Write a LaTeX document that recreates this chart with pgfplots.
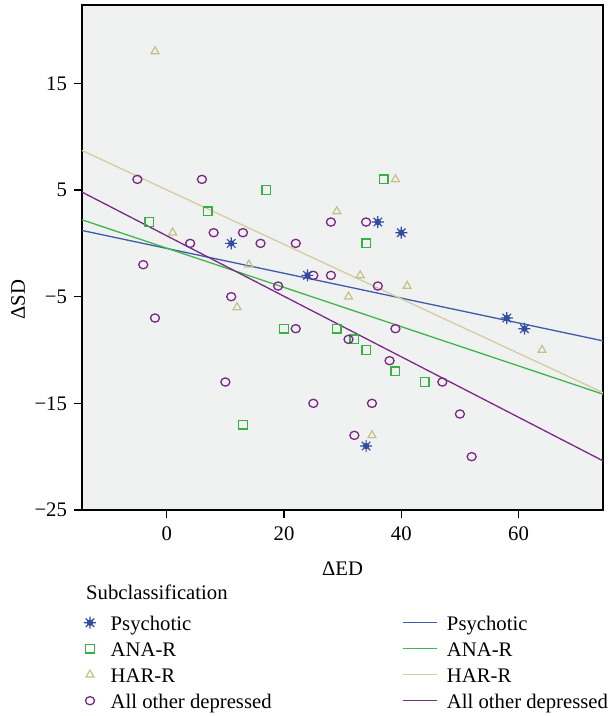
\documentclass[border=0pt]{standalone}
\usepackage{pgfplots}
\pgfplotsset{compat=1.18}
\usepackage{fontspec}
\setmainfont{Liberation Serif}
\definecolor{bgc}{RGB}{240,242,242}
\definecolor{pblue}{RGB}{52,76,160}
\definecolor{pgreen}{RGB}{55,178,66}
\definecolor{pkhaki}{RGB}{198,192,136}
\definecolor{ppurple}{RGB}{122,38,132}
\definecolor{lblue}{RGB}{62,90,168}
\definecolor{lgreen}{RGB}{62,182,74}
\definecolor{lkhaki}{RGB}{212,204,158}
\definecolor{lpurple}{RGB}{124,40,134}
\pgfdeclareplotmark{sunstar}{%
  \pgfpathmoveto{\pgfqpoint{-\pgfplotmarksize}{0pt}}\pgfpathlineto{\pgfqpoint{\pgfplotmarksize}{0pt}}%
  \pgfpathmoveto{\pgfqpoint{0pt}{-\pgfplotmarksize}}\pgfpathlineto{\pgfqpoint{0pt}{\pgfplotmarksize}}%
  \pgfpathmoveto{\pgfqpoint{-0.707\pgfplotmarksize}{-0.707\pgfplotmarksize}}\pgfpathlineto{\pgfqpoint{0.707\pgfplotmarksize}{0.707\pgfplotmarksize}}%
  \pgfpathmoveto{\pgfqpoint{-0.707\pgfplotmarksize}{0.707\pgfplotmarksize}}\pgfpathlineto{\pgfqpoint{0.707\pgfplotmarksize}{-0.707\pgfplotmarksize}}%
  \pgfusepathqstroke
  \pgfpathcircle{\pgfpointorigin}{0.42\pgfplotmarksize}\pgfusepathqfillstroke
}
\pgfplotsset{
  mleg/.style={legend image code/.code={\path (0bp,8bp) (14bp,8bp); \draw[##1] plot coordinates {(7bp,8bp)};}},
  lleg/.style={legend image code/.code={\draw[##1] (0bp,8bp) -- (34bp,8bp);}},
  starm/.style={only marks, mark=sunstar, mark size=6bp, pblue, line width=1.2bp},
  sqm/.style={only marks, mark=square, mark size=4.3bp, pgreen, line width=1.4bp},
  trim/.style={only marks, mark=triangle, mark size=4.6bp, pkhaki, line width=1.2bp},
  cirm/.style={only marks, mark=o, mark size=4.1bp, mark options={xscale=1.1}, ppurple, line width=1.3bp},
}
\begin{document}
\fontsize{20.7bp}{25bp}\selectfont
\begin{tikzpicture}
\begin{axis}[
  at={(0,0)}, anchor=south west,
  scale only axis, width=521bp, height=505bp,
  xmin=-14.45, xmax=74.4, ymin=-25, ymax=22.35,
  axis background/.style={fill=bgc},
  axis line style={line width=1.2bp, black},
  xtick={0,20,40,60},
  ytick={-25,-15,-5,5,15},
  yticklabels={−25,−15,−5,5,15},
  xticklabels={0,20,40,60},
  tick align=outside, xtick pos=bottom, ytick pos=left,
  major tick length=8bp,
  tick style={line width=1.2bp, black},
  every tick label/.append style={font=\fontsize{20.7bp}{25bp}\selectfont},
  xticklabel style={yshift=-2bp},
  xlabel={ΔED}, ylabel={ΔSD},
  every axis x label/.style={at={(rel axis cs:0.5,0)}, anchor=base, yshift=-65bp, font=\fontsize{20.7bp}{25bp}\selectfont},
  every axis y label/.style={at={(rel axis cs:0,0.4168)}, anchor=base, xshift=-57bp, rotate=90, font=\fontsize{20.7bp}{25bp}\selectfont},
  legend columns=2,
  legend style={draw=none, fill=none, inner sep=0pt, outer sep=0pt,
    at={(rel axis cs:0,0)}, anchor=north west, xshift=0.3bp, yshift=-105.7bp,
    row sep=6bp, column sep=0pt,
    font=\fontsize{20.7bp}{25bp}\selectfont,
    nodes={inner sep=0pt, anchor=base west, text height=15bp, text depth=5bp},
    /tikz/column 1/.style={column sep=13bp},
    /tikz/column 2/.style={column sep=122bp},
    /tikz/column 3/.style={column sep=9bp}},
]
% fit lines
\addplot[forget plot, lblue, line width=1.3bp] coordinates {(-14.45,1.21) (74.4,-9.14)};
\addplot[forget plot, lgreen, line width=1.3bp] coordinates {(-14.45,2.21) (74.4,-14.14)};
\addplot[forget plot, lkhaki, line width=1.3bp] coordinates {(-14.45,8.71) (74.4,-13.99)};
\addplot[forget plot, lpurple, line width=1.3bp] coordinates {(-14.45,4.81) (74.4,-20.39)};
% HAR-R
\addplot[forget plot, trim] coordinates {
(-2,18) (1,1) (14,-2) (12,-6) (39,6) (29,3) (33,-3) (41,-4) (31,-5) (64,-10) (35,-18)};
% ANA-R
\addplot[forget plot, sqm] coordinates {
(17,5) (7,3) (-3,2) (20,-8) (13,-17) (37,6) (34,0) (29,-8) (32,-9) (34,-10) (39,-12) (44,-13)};
% All other depressed
\addplot[forget plot, cirm] coordinates {
(-5,6) (6,6) (8,1) (13,1) (4,0) (16,0) (22,0) (-4,-2) (25,-3) (19,-4) (11,-5) (-2,-7) (22,-8) (10,-13)
(25,-15) (28,2) (34,2) (28,-3) (36,-4) (39,-8) (31,-9) (38,-11) (47,-13) (35,-15) (50,-16) (32,-18) (52,-20)};
% Psychotic
\addplot[forget plot, starm] coordinates {
(11,0) (24,-3) (36,2) (40,1) (58,-7) (61,-8) (34,-19)};
% legend
\addlegendimage{mleg, starm}
\addlegendentry{\makebox[170bp][l]{Psychotic}}
\addlegendimage{lleg, lblue, line width=1.3bp}
\addlegendentry{Psychotic}
\addlegendimage{mleg, sqm}
\addlegendentry{\makebox[170bp][l]{ANA-R}}
\addlegendimage{lleg, lgreen, line width=1.3bp}
\addlegendentry{ANA-R}
\addlegendimage{mleg, trim}
\addlegendentry{\makebox[170bp][l]{HAR-R}}
\addlegendimage{lleg, lkhaki, line width=1.3bp}
\addlegendentry{HAR-R}
\addlegendimage{mleg, cirm}
\addlegendentry{\makebox[170bp][l]{All other depressed}}
\addlegendimage{lleg, lpurple, line width=1.3bp}
\addlegendentry{All other depressed}
\end{axis}
\node[anchor=base west, inner sep=0pt] at (4bp,-89bp) {Subclassification};
\pgfresetboundingbox
\path (-82bp,-206bp) rectangle (529bp,510bp);
\end{tikzpicture}
\end{document}
